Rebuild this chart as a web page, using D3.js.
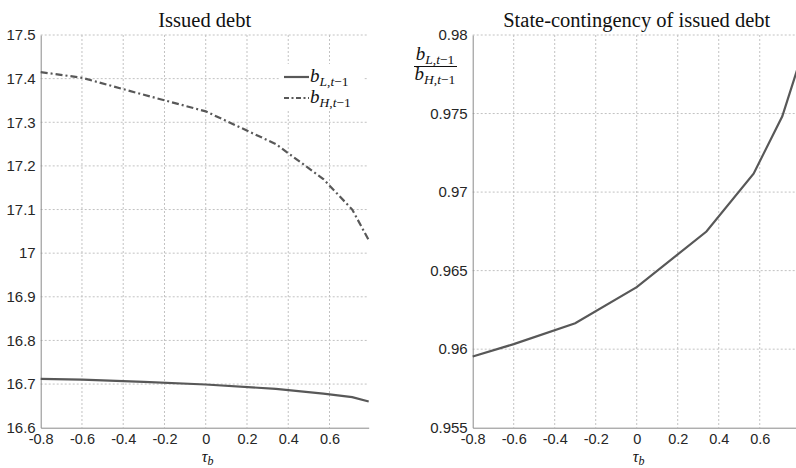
<!DOCTYPE html>
<html>
<head>
<meta charset="utf-8">
<script src="https://cdn.jsdelivr.net/npm/d3@7/dist/d3.min.js"></script>
<style>
  body { margin: 0; background: #fff; }
  svg { display: block; }
  .tick text { font-family: "Liberation Sans", Arial, sans-serif; fill: #262626; }
  .serif { font-family: "Liberation Serif", "Times New Roman", serif; fill: #111; }
</style>
</head>
<body>
<svg id="chart" width="796" height="468"></svg>
<script>
// tau_b grid points
const tauB = [-0.8, -0.6, -0.3, 0, 0.34, 0.57, 0.71, 0.79];
const bL = [16.712, 16.710, 16.705, 16.699, 16.689, 16.678, 16.670, 16.660];
const bH = [17.415, 17.402, 17.363, 17.325, 17.250, 17.170, 17.100, 17.030];
const ratio = [0.95953, 0.96032, 0.96165, 0.96395, 0.96749, 0.97117, 0.97482, 0.97810];

const xTicks = [-0.8, -0.6, -0.4, -0.2, 0, 0.2, 0.4, 0.6];
const leftYTicks = [16.6, 16.7, 16.8, 16.9, 17, 17.1, 17.2, 17.3, 17.4, 17.5];
const rightYTicks = [0.955, 0.96, 0.965, 0.97, 0.975, 0.98];

const svg = d3.select('#chart');
const cs = {
  top: 35,
  bottom: 427.7,
  left: { x0: 40.7, x1: 368.7 },
  right: { x0: 472.7, x1: 798.7 },
  line: '#585858',
  grid: '#c2c2c2',
  axis: '#8a8a8a',
};

// plain hyphen minus, as in the figure
const fmt = f => d => f(d).replace('−', '-');

// one panel: grid, axes, and the given series
const panel = (px, yDomain, yTicks, series) => {
  const x = d3.scaleLinear().domain([-0.8, 0.79]).range([px.x0, px.x1]);
  const y = d3.scaleLinear().domain(yDomain).range([cs.bottom, cs.top]);
  const g = svg.append('g');

  // grid
  g.append('g').selectAll('line').data(xTicks.slice(1)).join('line')
    .attr('x1', d => x(d)).attr('x2', d => x(d))
    .attr('y1', cs.top).attr('y2', cs.bottom)
    .attr('stroke', cs.grid).attr('stroke-dasharray', '2,2');
  g.append('g').selectAll('line').data(yTicks.slice(1)).join('line')
    .attr('x1', px.x0).attr('x2', px.x1)
    .attr('y1', d => y(d)).attr('y2', d => y(d))
    .attr('stroke', cs.grid).attr('stroke-dasharray', '2,2');

  const xAxis = d3.axisBottom(x).tickValues(xTicks).tickSize(0).tickPadding(6)
    .tickFormat(fmt(d3.format('.1~f')));
  const gx = g.append('g').attr('transform', `translate(0,${cs.bottom})`).call(xAxis);
  gx.selectAll('text').attr('font-size', 14.5);
  gx.select('.domain').attr('stroke', cs.axis);

  const yAxis = d3.axisLeft(y).tickValues(yTicks).tickSize(0).tickPadding(5)
    .tickFormat(d3.format('~g'));
  const gy = g.append('g').attr('transform', `translate(${px.x0},0)`).call(yAxis);
  gy.selectAll('text').attr('font-size', 15);
  gy.select('.domain').attr('stroke', cs.axis);

  series.forEach(s => {
    g.append('path')
      .datum(s.values)
      .attr('fill', 'none')
      .attr('stroke', cs.line)
      .attr('stroke-width', 2.2)
      .attr('stroke-dasharray', s.dash || null)
      .attr('d', d3.line().x((d, i) => x(tauB[i])).y(d => y(d)));
  });

  // x label tau_b
  const xl = g.append('text').attr('class', 'serif')
    .attr('x', x(0) + 2).attr('y', 462)
    .attr('text-anchor', 'middle').attr('font-size', 16).attr('font-style', 'italic');
  xl.append('tspan').text('τ');
  xl.append('tspan').attr('dy', 3).attr('font-size', 12).text('b');
  return { x, y, g };
};

panel(cs.left, [16.6, 17.5], leftYTicks, [
  { values: bL },
  { values: bH, dash: '7,3,2,3' },
]);
panel(cs.right, [0.955, 0.98], rightYTicks, [
  { values: ratio },
]);

// titles
svg.append('text').attr('class', 'serif').attr('x', 204.7).attr('y', 27)
  .attr('text-anchor', 'middle').attr('font-size', 20.5).text('Issued debt');
svg.append('text').attr('class', 'serif').attr('x', 636.7).attr('y', 27)
  .attr('text-anchor', 'middle').attr('font-size', 20.5).text('State-contingency of issued debt');

// subscripted b label
const bLabel = (sel, sub, x, yb, anchor) => {
  const t = sel.append('text').attr('class', 'serif').attr('x', x).attr('y', yb)
    .attr('text-anchor', anchor).attr('font-size', 19);
  t.append('tspan').attr('font-style', 'italic').text('b');
  t.append('tspan').attr('dy', 4).attr('font-size', 13.5).attr('font-style', 'italic').text(sub);
  t.append('tspan').attr('font-size', 13.5).text(',');
  t.append('tspan').attr('font-size', 13.5).attr('font-style', 'italic').text('t');
  t.append('tspan').attr('font-size', 13.5).text('−1');
  return t;
};

// legend
const lg = svg.append('g');
lg.append('rect').attr('x', 279).attr('y', 64).attr('width', 84).attr('height', 45).attr('fill', '#fff');
const legendItems = [{ label: 'L', dash: null, y: 77 }, { label: 'H', dash: '5,2.5,2,2.5', y: 98 }];
legendItems.forEach(d => {
  lg.append('line').attr('x1', 284).attr('x2', 309).attr('y1', d.y).attr('y2', d.y)
    .attr('stroke', cs.line).attr('stroke-width', 2.2).attr('stroke-dasharray', d.dash);
  bLabel(lg, d.label, 310, d.y + 5, 'start');
});

// right y label as a fraction
const fr = svg.append('g');
bLabel(fr, 'L', 435, 60, 'middle');
fr.append('line').attr('x1', 414).attr('x2', 457).attr('y1', 66.5).attr('y2', 66.5)
  .attr('stroke', '#111').attr('stroke-width', 1);
bLabel(fr, 'H', 435, 80, 'middle');
</script>
</body>
</html>
